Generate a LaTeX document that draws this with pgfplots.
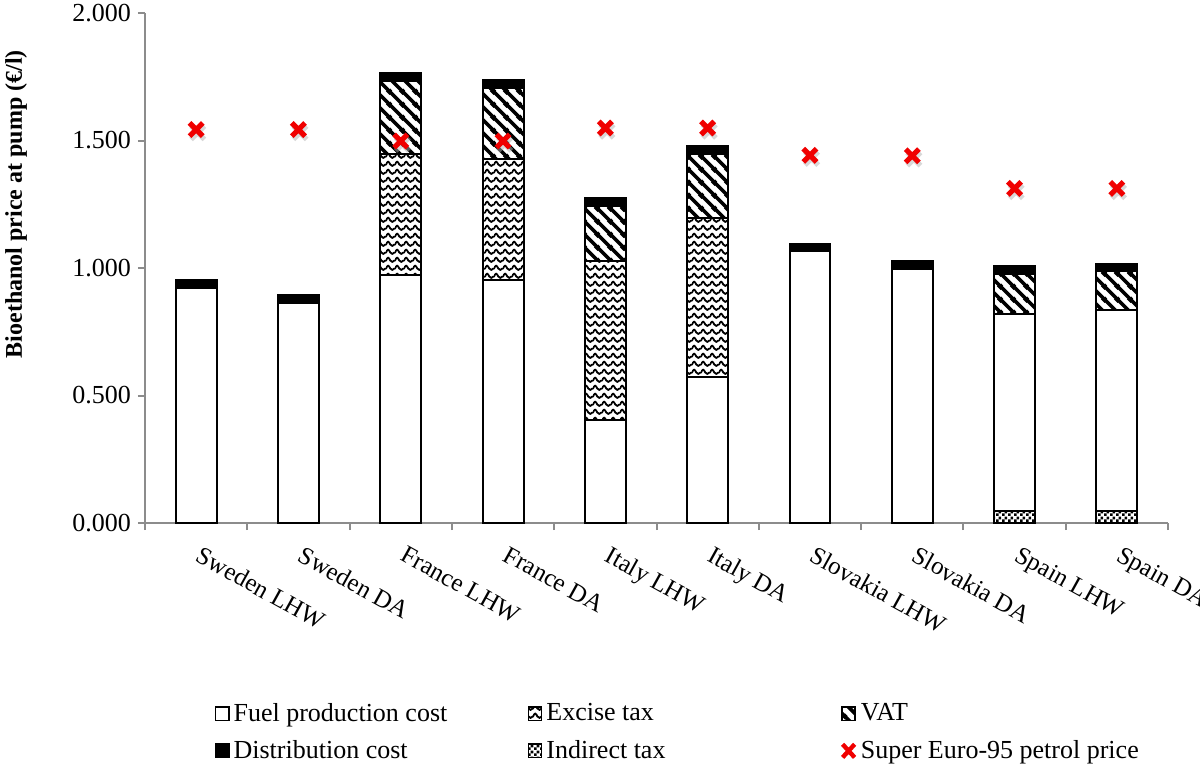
\documentclass[border=0pt]{standalone}
\usepackage{pgfplots}
\pgfplotsset{compat=1.18}
\usepackage{fontspec}
\setmainfont{Liberation Serif}
\usetikzlibrary{patterns.meta}
\definecolor{axgray}{HTML}{8C8C8C}
\definecolor{xred}{HTML}{F00000}

% fill patterns
\tikzdeclarepattern{
  name=vatlines, type=uncolored,
  bounding box={(0,0) and (6.5pt,6.5pt)},
  tile size={(6.5pt,6.5pt)},
  code={
    \draw[line width=1.9pt] (-1pt,7.5pt) -- (7.5pt,-1pt);
    \draw[line width=1.9pt] (-1pt,1pt) -- (1pt,-1pt);
    \draw[line width=1.9pt] (5.5pt,7.5pt) -- (7.5pt,5.5pt);
  }
}
\tikzdeclarepattern{
  name=waves, type=uncolored,
  bounding box={(0,0) and (4.6pt,4.1pt)},
  tile size={(4.6pt,4.1pt)},
  code={
    \draw[line width=1pt] (-0.3pt,1.4pt) -- (0pt,1.4pt) sin (1.15pt,2.9pt) cos (2.3pt,1.4pt)
      sin (3.45pt,0.6pt) cos (4.6pt,1.4pt) -- (4.9pt,1.4pt);
  }
}
\tikzdeclarepattern{
  name=checks, type=uncolored,
  bounding box={(0,0) and (3pt,3pt)},
  tile size={(3pt,3pt)},
  code={
    \fill (0pt,0pt) rectangle (1.5pt,1.5pt);
    \fill (1.5pt,1.5pt) rectangle (3pt,3pt);
  }
}

\pgfplotstableread{
x fuel excise vat dist indirect
0 0.923 0     0     0.031 0
1 0.862 0     0     0.031 0
2 0.974 0.474 0.284 0.033 0
3 0.953 0.475 0.277 0.031 0
4 0.403 0.624 0.217 0.029 0
5 0.571 0.624 0.253 0.029 0
6 1.068 0     0     0.027 0
7 0.997 0     0     0.030 0
8 0.771 0     0.160 0.028 0.047
9 0.787 0     0.153 0.030 0.047
}\costs

\pgfplotstableread{
x petrol
0 1.543
1 1.543
2 1.498
3 1.498
4 1.549
5 1.549
6 1.442
7 1.440
8 1.312
9 1.312
}\petrol

\newcommand{\tfont}{\fontsize{13}{15.6}\selectfont}

\pgfplotsset{
  sq legend/.style={legend image code/.code={
    \draw[##1,line width=0.8pt] (0pt,-3.3pt) rectangle (6.6pt,3.3pt);}},
  x legend/.style={legend image code/.code={
    \draw[xred,line width=2.2pt] (0.3pt,-3.3pt) -- (6.3pt,3.3pt) (0.3pt,3.3pt) -- (6.3pt,-3.3pt);}},
  seg/.style={draw=black, line width=1pt, bar width=0.4},
}

\begin{document}
\begin{tikzpicture}
\begin{axis}[
  scale only axis, width=511.5pt, height=255pt,
  ybar stacked,
  xmin=-0.5, xmax=9.5, ymin=0, ymax=2,
  axis lines*=left,
  axis line style={axgray, line width=1pt},
  tick style={axgray, line width=1pt},
  tick align=outside, major tick length=3.5pt,
  ytick={0,0.5,...,2},
  yticklabel style={font=\tfont, /pgf/number format/.cd, fixed, fixed zerofill, precision=3, assume math mode=true},
  xtick={-0.5,0.5,...,9.5}, xticklabels={},
  extra x ticks={0,...,9},
  extra x tick labels={Sweden LHW,Sweden DA,France LHW,France DA,Italy LHW,Italy DA,Slovakia LHW,Slovakia DA,Spain LHW,Spain DA},
  extra x tick style={major tick length=0pt,
    xticklabel style={font=\fontsize{12.5}{15}\selectfont, rotate=-29, anchor=north west, xshift=5pt, yshift=-4.7pt}},
  ylabel={\textbf{Bioethanol price at pump (€/l)}},
  ylabel style={font=\fontsize{12}{14}\selectfont, at={(axis description cs:0,0.625)}, anchor=center, yshift=64.5pt},
  legend columns=3,
  legend style={draw=none, fill=none, at={(axis description cs:0.062,-0.337)}, anchor=north west,
    font=\tfont, column sep=0pt, row sep=4pt},
  legend cell align=left,
]
\addplot[seg, fill=white, pattern=checks, forget plot] table[x=x, y=indirect] {\costs};
\addplot[seg, fill=white, forget plot] table[x=x, y=fuel] {\costs};
\addplot[seg, pattern=waves, forget plot] table[x=x, y=excise] {\costs};
\addplot[seg, pattern=vatlines, forget plot] table[x=x, y=vat] {\costs};
\addplot[seg, fill=black, forget plot] table[x=x, y=dist] {\costs};

\addlegendimage{sq legend, fill=white}
\addlegendentry{\makebox[145pt][l]{Fuel production cost}}
\addlegendimage{sq legend, pattern=waves}
\addlegendentry{\makebox[145pt][l]{Excise tax}}
\addlegendimage{sq legend, pattern=vatlines}
\addlegendentry{\makebox[145pt][l]{VAT}}
\addlegendimage{sq legend, fill=black}
\addlegendentry{Distribution cost}
\addlegendimage{sq legend, pattern=checks}
\addlegendentry{Indirect tax}
\addlegendimage{x legend}
\addlegendentry{Super Euro-95 petrol price}
\end{axis}

\begin{axis}[
  scale only axis, width=511.5pt, height=255pt,
  xmin=-0.5, xmax=9.5, ymin=0, ymax=2,
  axis lines=none, clip=false,
]
\addplot[only marks, mark=x, mark size=4.7pt, line width=2.6pt, black!30, opacity=0.5,
  mark options={xshift=0.8pt, yshift=-1.6pt}] table[x=x, y=petrol] {\petrol};
\addplot[only marks, mark=x, mark size=4.7pt, line width=2.6pt, xred] table[x=x, y=petrol] {\petrol};
\end{axis}

\pgfresetboundingbox
\path ([shift={(-72.5pt,-122pt)}]current axis.south west) rectangle ([shift={(16pt,6.5pt)}]current axis.north east);
\end{tikzpicture}
\end{document}
